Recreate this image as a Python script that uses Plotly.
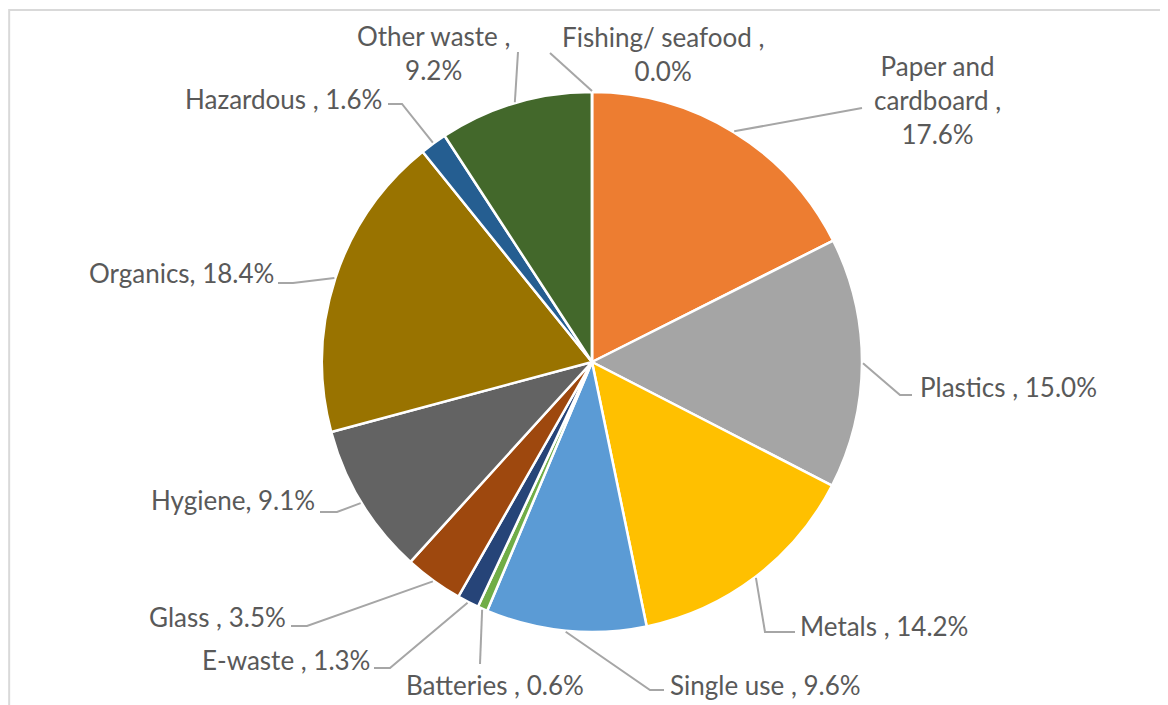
import math
import plotly.graph_objects as go

# ---- data ----
categories = ["Paper and cardboard", "Plastics", "Metals", "Single use", "Batteries",
              "E-waste", "Glass", "Hygiene", "Organics", "Hazardous", "Other waste",
              "Fishing/ seafood"]
values = [17.6, 15.0, 14.2, 9.6, 0.6, 1.3, 3.5, 9.1, 18.4, 1.6, 9.2, 0.0]
label_texts = ["Paper and<br>cardboard ,<br>17.6%", "Plastics , 15.0%", "Metals , 14.2%",
               "Single use , 9.6%", "Batteries , 0.6%", "E-waste , 1.3%", "Glass , 3.5%",
               "Hygiene, 9.1%", "Organics, 18.4%", "Hazardous , 1.6%",
               "Other waste ,<br>9.2%", "Fishing/ seafood ,<br>0.0%"]
colors = ["#ED7D31", "#A5A5A5", "#FFC000", "#5B9BD5", "#70AD47", "#264478",
          "#9E480E", "#636363", "#997300", "#255E91", "#43682B", "#698ED0"]

# ---- layout (screen pixels; page body has an 8px margin) ----
W, H = 1168, 705
OFF = 8
CX, CY, R = 592, 362, 270

def px(x):
    return (x - OFF) / W

def py(y):
    return 1 - (y - OFF) / H

# label placement: (x, y, xanchor) and leader start + elbow (pixels)
label_pos = [
    (937, 100, "center", (862, 108), (862, 108)),
    (918, 387, "left", (912, 395), (900, 395)),
    (798, 626, "left", (795, 632), (765, 632)),
    (668, 685, "left", (664, 690), (650, 690)),
    (495, 685, "center", (480, 664), (480, 664)),
    (372, 660, "right", (374, 668), (390, 668)),
    (288, 617, "right", (291, 626), (307, 626)),
    (317, 500, "right", (320, 512), (337, 512)),
    (276, 273, "right", (278, 283), (293, 283)),
    (384, 99, "right", (388, 104), (402, 104)),
    (433, 53, "center", (518, 52), (518, 52)),
    (663, 54, "center", (550, 53), (550, 53)),
]

fig = go.Figure()
fig.add_trace(go.Pie(
    labels=categories, values=values, sort=False, direction="clockwise",
    rotation=0, textinfo="none", hoverinfo="label+percent",
    marker=dict(colors=colors, line=dict(color="white", width=2.5)),
    domain=dict(x=[px(CX - R), px(CX + R)], y=[py(CY + R), py(CY - R)]),
    showlegend=False,
))

total = sum(values)
cum = 0.0
shapes = []
annotations = []
for i, v in enumerate(values):
    mid = (cum + v / 2) / total * 2 * math.pi
    cum += v
    ex = CX + (R + 1) * math.sin(mid)
    ey = CY - (R + 1) * math.cos(mid)
    lx, ly, anchor, start, elbow = label_pos[i]
    path = f"M {px(start[0])} {py(start[1])} L {px(elbow[0])} {py(elbow[1])} L {px(ex)} {py(ey)}"
    shapes.append(dict(type="path", xref="paper", yref="paper", path=path,
                       line=dict(color="#A6A6A6", width=2)))
    annotations.append(dict(x=px(lx), y=py(ly), xref="paper", yref="paper",
                            text=label_texts[i], showarrow=False, xanchor=anchor,
                            yanchor="middle", align="center",
                            font=dict(family="Lato", size=26, color="#595959")))

# outer chart border
shapes.append(dict(type="rect", xref="paper", yref="paper",
                   x0=0.001, y0=-0.02, x1=1.02, y1=py(10),
                   line=dict(color="#D9D9D9", width=2), fillcolor="rgba(0,0,0,0)"))

fig.update_layout(
    width=W, height=H, margin=dict(l=0, r=0, t=0, b=0),
    paper_bgcolor="white", plot_bgcolor="white",
    shapes=shapes, annotations=annotations,
)
fig.write_html("out.html")
